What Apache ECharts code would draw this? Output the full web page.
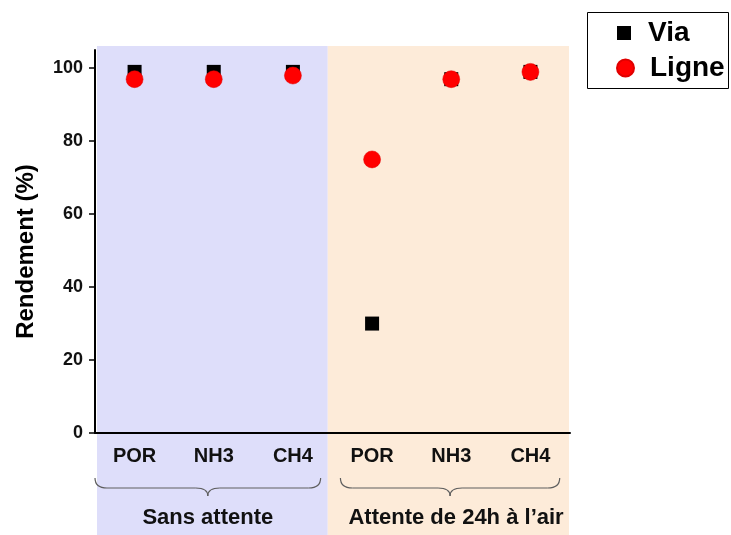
<!DOCTYPE html>
<html><head><meta charset="utf-8">
<script src="https://cdn.jsdelivr.net/npm/echarts@6/dist/echarts.min.js"></script>
<style>html,body{margin:0;padding:0;background:#fff}#c{width:731px;height:535px}</style>
</head><body><div id="c"></div>
<script>
const categories = ['POR', 'NH3', 'CH4', 'POR', 'NH3', 'CH4'];
const groups = ['Sans attente', 'Attente de 24h à l’air'];
const viaValues = [99, 99, 99, 30, 97, 99];
const ligneValues = [97, 97, 98, 75, 97, 99];
const yTicks = [0, 20, 40, 60, 80, 100];

const FONT = "'Liberation Sans', Arial, sans-serif";
const chart = echarts.init(document.getElementById('c'));
const option = {
  animation: false,
  backgroundColor: '#fff',
  grid: { left: 95, right: 161, top: 50, bottom: 102, containLabel: false, outerBoundsMode: 'none' },
  legend: [
    { data: [{ name: 'Via', icon: 'rect' }], left: 617, top: 19, orient: 'vertical',
      itemWidth: 14, itemHeight: 14, padding: 0,
      textStyle: { fontFamily: FONT, fontSize: 28, fontWeight: 'bold', color: '#000', padding: [0, 0, 0, 12] } },
    { data: [{ name: 'Ligne', icon: 'circle' }], left: 616, top: 54, orient: 'vertical',
      itemWidth: 17, itemHeight: 17, padding: 0,
      textStyle: { fontFamily: FONT, fontSize: 28, fontWeight: 'bold', color: '#000', padding: [0, 0, 0, 11] } }
  ],
  xAxis: {
    type: 'category', data: categories, boundaryGap: true,
    axisLine: { lineStyle: { color: '#000', width: 2 } },
    axisTick: { alignWithLabel: true, length: 6, lineStyle: { color: '#000', width: 1.5 } },
    axisLabel: { fontFamily: FONT, fontSize: 20, fontWeight: 'bold', color: '#111', margin: 13 },
    splitLine: { show: false }
  },
  yAxis: {
    type: 'value', min: 0, max: 105, interval: 20,
    name: 'Rendement (%)', nameLocation: 'middle', nameGap: 57, nameRotate: 90,
    nameTextStyle: { fontFamily: FONT, fontSize: 24, fontWeight: 'bold', color: '#000', padding: [0, 20, 0, 0] },
    axisLine: { show: true, lineStyle: { color: '#000', width: 2 } },
    axisTick: { show: true, length: 6, customValues: yTicks, lineStyle: { color: '#000', width: 1.5 } },
    axisLabel: { fontFamily: FONT, fontSize: 18, fontWeight: 'bold', color: '#111', margin: 12, customValues: yTicks },
    splitLine: { show: false }
  },
  series: [
    { name: 'Via', type: 'scatter', data: viaValues, symbol: 'rect', symbolSize: 14,
      itemStyle: { color: '#000', opacity: 1 }, z: 3 },
    { name: 'Ligne', type: 'scatter', data: ligneValues, symbol: 'circle', symbolSize: 17,
      itemStyle: { color: '#ff0000', borderColor: '#e00000', borderWidth: 0.5, opacity: 1 }, z: 4 }
  ]
};
chart.setOption(option);

function px(i) { return chart.convertToPixel({ xAxisIndex: 0 }, i); }
const bw = px(1) - px(0);
const gridTop = chart.convertToPixel({ yAxisIndex: 0 }, 105);
const split = px(2) + 0.44 * (px(3) - px(2));
const leftEdge = px(0) - bw / 2 + 2;
const rightEdge = px(5) + bw / 2 - 1;
const H = 535;

const braceStyle = { fill: 'none', stroke: '#5e5e5e', lineWidth: 1.2 };
function brace(x0, x1, y0, ym, yc) {
  const xc = (x0 + x1) / 2, r = 12;
  const els = [];
  const q = (a, b, c, d, e, f) => els.push({ type: 'bezierCurve', z: 5, silent: true,
    shape: { x1: a, y1: b, x2: e, y2: f, cpx1: c, cpy1: d }, style: braceStyle });
  const l = (a, b, c, d) => els.push({ type: 'line', z: 5, silent: true,
    shape: { x1: a, y1: b, x2: c, y2: d }, style: braceStyle });
  q(x0, y0, x0, ym, x0 + r, ym);
  l(x0 + r, ym, xc - r, ym);
  q(xc - r, ym, xc, ym, xc, yc);
  q(xc, yc, xc, ym, xc + r, ym);
  l(xc + r, ym, x1 - r, ym);
  q(x1 - r, ym, x1, ym, x1, y0);
  return els;
}
const b1 = [px(0) - 0.5 * bw, px(2) + 0.35 * bw];
const b2 = [px(3) - 0.4 * bw, px(5) + 0.37 * bw];

chart.setOption({
  graphic: [
    { type: 'rect', z: -10, silent: true, shape: { x: leftEdge, y: gridTop - 4, width: split - leftEdge, height: H - gridTop + 4 },
      style: { fill: '#dedefa' } },
    { type: 'rect', z: -10, silent: true, shape: { x: split, y: gridTop - 4, width: rightEdge - split, height: H - gridTop + 4 },
      style: { fill: '#fdebd9' } },
    ...brace(b1[0], b1[1], 478, 488, 496),
    ...brace(b2[0], b2[1], 478, 488, 496),
    { type: 'text', z: 5, silent: true, x: (b1[0] + b1[1]) / 2, y: 518,
      style: { text: groups[0], fontFamily: FONT, fontSize: 22, fontWeight: 'bold', fill: '#111', align: 'center', verticalAlign: 'middle' } },
    { type: 'text', z: 5, silent: true, x: (b2[0] + b2[1]) / 2 + 6, y: 518,
      style: { text: groups[1], fontFamily: FONT, fontSize: 22, fontWeight: 'bold', fill: '#111', align: 'center', verticalAlign: 'middle' } },
    { type: 'rect', z: 5, silent: true, shape: { x: 587.5, y: 12.5, width: 141, height: 76 },
      style: { fill: 'none', stroke: '#000', lineWidth: 1 } }
  ]
});
</script></body></html>
